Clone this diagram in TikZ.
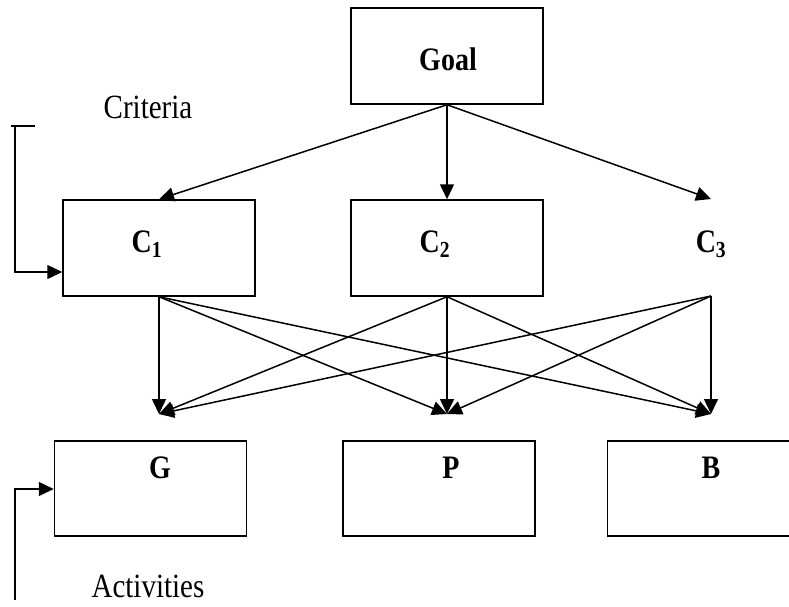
\documentclass[tikz,border=0pt]{standalone}
\usepackage{fontspec}
\setmainfont{Liberation Serif}
\usetikzlibrary{arrows.meta}
\newcommand{\vstr}[1]{\scalebox{1}[1.17]{#1}}
\begin{document}
\begin{tikzpicture}[x=1pt,y=-1pt,
  box/.style={draw,line width=1.5pt,minimum width=192pt,minimum height=96pt,inner sep=0pt},
  lbl/.style={anchor=base,inner sep=0pt,font=\fontsize{28}{30}\selectfont\bfseries},
  txt/.style={anchor=base,inner sep=0pt,font=\fontsize{29}{32}\selectfont},
  arr/.style={line width=1.5pt,-{Triangle[length=15pt,width=14pt]}},
  ln/.style={line width=1.5pt}]
\useasboundingbox (0,0) rectangle (789,606);
\clip (0,0) rectangle (789,606);
% boxes
\node[box] (goal) at (447,56) {};
\node[box] (c1) at (159,248) {};
\node[box] (c2) at (447,248) {};
\node[box,minimum height=95pt] (g) at (150.5,488.5) {};
\node[box,minimum height=95pt] (p) at (439,488.5) {};
\node[box,minimum height=95pt] (b) at (703.5,488.5) {};
% labels
\node[lbl] (goalt) at (448,70) {\vstr{Goal}};
\node[lbl] (c1t) at (147,252) {\vstr{C\textsubscript{1}}};
\node[lbl] (c2t) at (435,252) {\vstr{C\textsubscript{2}}};
\node[lbl] (c3t) at (711,252) {\vstr{C\textsubscript{3}}};
\node[lbl] (gt) at (160,478) {\vstr{G}};
\node[lbl] (pt) at (451,478) {\vstr{P}};
\node[lbl] (bt) at (711,478) {\vstr{B}};
\node[txt] (crit) at (148,118) {\vstr{Criteria}};
\node[txt] (act) at (148,597) {\vstr{Activities}};
% coordinates
\coordinate (c3top) at (711,199);
\coordinate (c3bot) at (711,296);
\coordinate (gin) at (159,414);
\coordinate (pin) at (447,414);
\coordinate (bin) at (711,414);
\coordinate (br1a) at (11,126);
\coordinate (br1b) at (15,126);
\coordinate (br1c) at (35,126);
\coordinate (br2a) at (15,600);
% goal to criteria
\draw[arr] (goal.south) -- (c1.north);
\draw[arr] (goal.south) -- (c2.north);
\draw[arr] (goal.south) -- (c3top);
% criteria to activities
\foreach \s in {c1.south,c2.south,c3bot}{
  \draw[arr] (\s) -- (gin);
  \draw[arr] (\s) -- (pin);
  \draw[arr] (\s) -- (bin);
}
% brackets
\draw[ln] (br1a) -- (br1c);
\draw[arr] (br1b) |- (c1.west |- 0,272);
\draw[arr] (br2a) |- (g.west |- 0,489);
\end{tikzpicture}
\end{document}
